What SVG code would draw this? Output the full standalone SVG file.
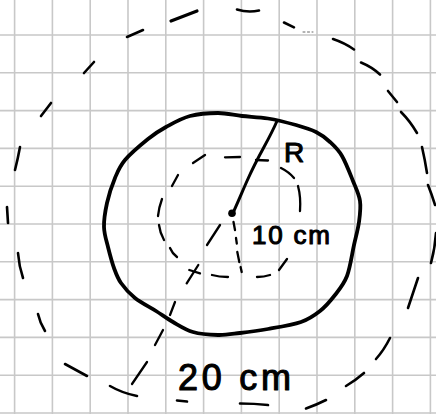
<svg xmlns="http://www.w3.org/2000/svg" width="436" height="414" viewBox="0 0 436 414">
  <style>
    .grid { stroke: #c8c8c8; stroke-width: 1.6; fill: none; }
    .ink { stroke: #000; fill: none; stroke-linecap: round; stroke-linejoin: round; }
    .dash-o { stroke-width: 2.6; }
    .dash-i { stroke-width: 2.3; }
    .solid { stroke-width: 3.8; }
    .lbl { font-family: "Liberation Sans", Arial, sans-serif; fill: #000; stroke: #000; stroke-width: 1.1; stroke-linejoin: round; }
  </style>
  <rect width="436" height="414" fill="#fff"/>
  <g id="grid" class="grid">
    <path d="M14.6 0V414 M52.4 0V414 M90.2 0V414 M128 0V414 M165.8 0V414 M203.6 0V414 M241.4 0V414 M279.2 0V414 M317 0V414 M354.8 0V414 M392.6 0V414 M430.4 0V414"/>
    <path d="M0 35H436 M0 72.8H436 M0 110.6H436 M0 148.4H436 M0 186.2H436 M0 224H436 M0 261.8H436 M0 299.6H436 M0 337.4H436 M0 375.2H436 M0 413H436"/>
  </g>
  <g id="outer-circle" class="ink dash-o">
    <path d="M237 9.5 Q248 13 259 10.5"/>
    <path d="M284 22.5 L294 27.3"/>
    <path d="M303 32 L313 32" stroke-width="1" stroke="#666" stroke-dasharray="2 2.5"/>
    <path d="M333 39 Q345 43 354 49.5"/>
    <path d="M361 62.5 Q372 67 380 74.5"/>
    <path d="M388 91 L397 102"/>
    <path d="M401 112 Q410 121 417 133"/>
    <path d="M422 147 Q425 160 427 173"/>
    <path d="M428 185 Q432 195 435 205"/>
    <path d="M436 233 Q435 248 431 263"/>
    <path d="M418 278 Q413 293 408 308"/>
    <path d="M390 338 Q384 350 376 359"/>
    <path d="M364 373 Q356 380 346 386"/>
    <path d="M326 400 Q316 405 306 408.5"/>
    <path d="M268 405 Q254 403.5 240 403.5"/>
    <path d="M187 401.5 L177 400.5"/>
    <path d="M137 396 Q122 393 110 386"/>
    <path d="M87 376 L65 364"/>
    <path d="M45 331 Q40 323 38 314"/>
    <path d="M23 278 Q19 266 18 253"/>
    <path d="M8 223 L7 207"/>
    <path d="M15 170 Q18 158 20 147"/>
    <path d="M41 116 L51 103"/>
    <path d="M84 73 L94 62"/>
    <path d="M127 37 L143 30"/>
    <path d="M171 21 L197 11" stroke-width="3.2"/>
  </g>
  <g id="inner-circle" class="ink dash-i">
    <path d="M225 157.3 L240 157"/>
    <path d="M256 160 L268 160.5"/>
    <path d="M281 168 Q289 172 294 178"/>
    <path d="M298 186 Q301 197 300 211"/>
    <path d="M287 259 L279 270"/>
    <path d="M270 275 Q264 277 257 277"/>
    <path d="M228 277 Q219 277 212 275"/>
    <path d="M177 257 Q172 253 170 248"/>
    <path d="M159 225 Q160 233 164 240"/>
    <path d="M162 199 Q159 207 158 216"/>
    <path d="M172 186 L178 175"/>
    <path d="M193 163 L205 155"/>
  </g>
  <g id="radius-lines" class="ink dash-i">
    <path d="M233.5 222 L235 230 M236 238 L236.8 243.5 M237.3 252 L239.3 262 M240.6 267 L241.7 272"/>
    <path d="M220 225 L207 245"/>
    <path d="M198.3 265 L186.7 283.3 M189.3 270 L200 273.3"/>
    <path d="M175 302 L170 315"/>
    <path d="M163 330 L155 345"/>
    <path d="M147 362 L132 384"/>
  </g>
  <g id="main-circle" class="ink solid">
    <path d="M218 113 C226.7 113 233.7 115.1 242 116 C250.3 116.9 259 117 268 118.5 C277 120 288 122.8 296 125 C304 127.3 310.3 129.2 316 132 C321.7 134.8 325.7 138 330 142 C334.3 146 338.2 149.5 342 156 C345.8 162.5 350 173.5 353 181 C356 188.5 359 194.2 360 201 C361 207.8 360 214.7 359 222 C358 229.3 356 236 354 245 C352 254 350.2 267.7 347 276 C343.8 284.3 339.5 289.2 335 295 C330.5 300.8 325.7 306.5 320 311 C314.3 315.5 309.7 319 301 322 C292.3 325 278.2 327.2 268 329 C257.8 330.8 248.3 332 240 333 C231.7 334 225.8 335.2 218 335 C210.2 334.8 200.5 334.2 193 332 C185.5 329.8 179.2 325.5 173 322 C166.8 318.5 162.3 315 156 311 C149.7 307 140.8 302.7 135 298 C129.2 293.3 124.5 288 121 283 C117.5 278 116.2 274 114 268 C111.8 262 109.7 253.8 108 247 C106.3 240.2 104.2 234.3 104 227 C103.8 219.7 105.2 211.2 107 203 C108.8 194.8 112 185.2 115 178 C118 170.8 119.5 166.5 125 160 C130.5 153.5 141.2 144.5 148 139 C154.8 133.5 159 130.8 166 127 C173 123.2 181.3 118.3 190 116 C198.7 113.7 209.3 113 218 113 Z"/>
  </g>
  <g id="radius" class="ink">
    <path d="M233 213 C238 202 243 190 247 181 S258 158 264 147 S274 128 277 121" stroke-width="3"/>
    <circle cx="232" cy="213.3" r="3.8" fill="#000" stroke="none"/>
  </g>
  <g id="labels">
    <text class="lbl" x="284" y="162" font-size="28">R</text>
    <text class="lbl" x="252" y="244" font-size="26" textLength="78" lengthAdjust="spacing">10 cm</text>
    <text class="lbl" x="178" y="390" font-size="36" textLength="113" lengthAdjust="spacing">20 cm</text>
  </g>
</svg>
